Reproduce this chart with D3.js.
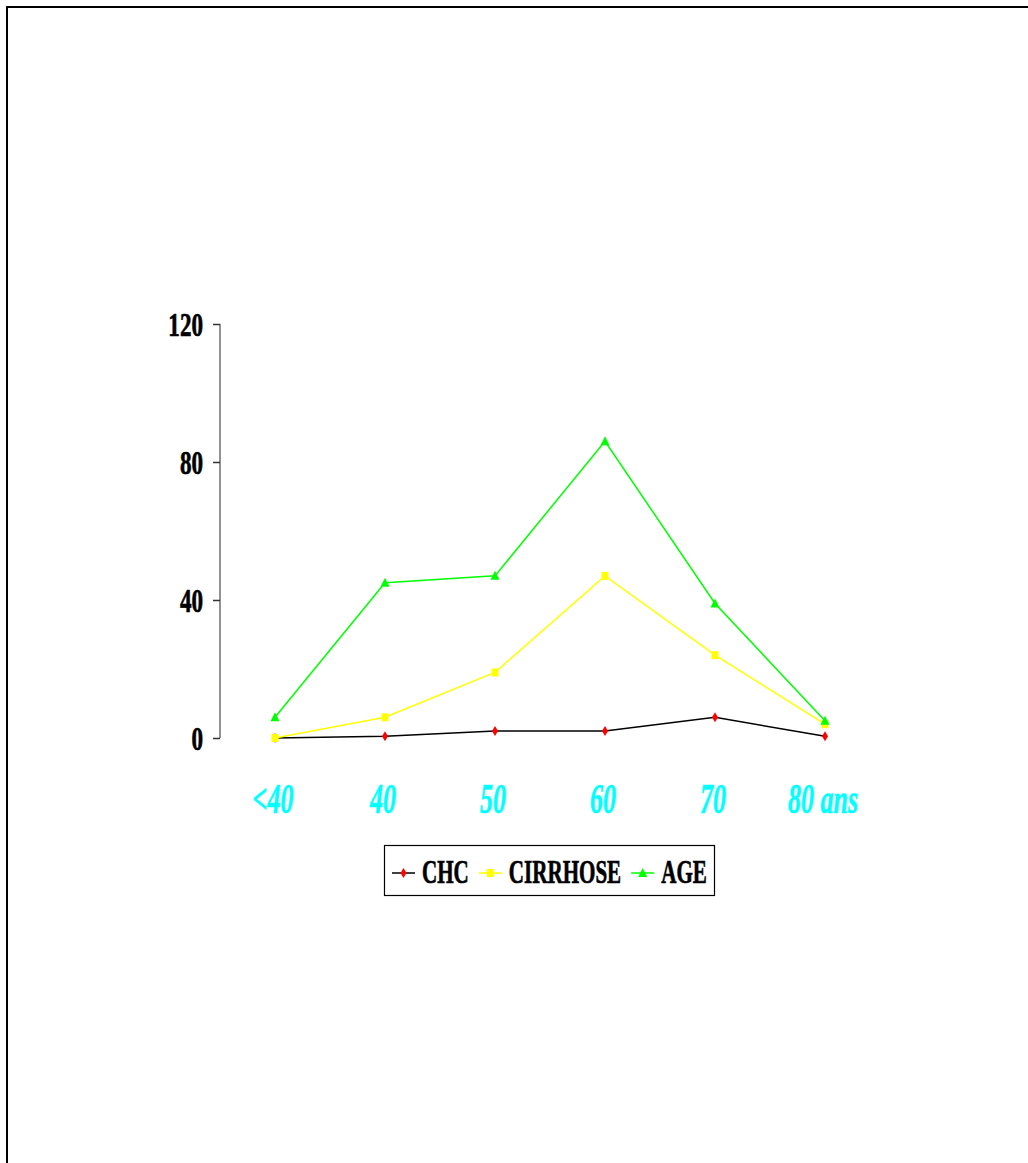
<!DOCTYPE html>
<html>
<head>
<meta charset="utf-8">
<script src="https://cdn.jsdelivr.net/npm/d3@7"></script>
<style>
  html, body { margin: 0; padding: 0; background: #fff; overflow: hidden; }
  svg { display: block; }
</style>
</head>
<body>
<svg id="chart" width="1028" height="1163"></svg>
<script>
// ---- data ----
const categories = ["<40", "40", "50", "60", "70", "80 ans"];
const chcValues = [0, 0.5, 2, 2, 6, 0.5];
const cirrhoseValues = [0, 6, 19, 47, 24, 4];
const ageValues = [6, 45, 47, 86, 39, 5];
const yTicks = [0, 40, 80, 120];
const seriesNames = ["CHC", "CIRRHOSE", "AGE"];

const series = [
  { name: seriesNames[0], values: chcValues, line: "#000000", marker: "#ff0000", shape: "diamond" },
  { name: seriesNames[1], values: cirrhoseValues, line: "#ffff00", marker: "#ffff00", shape: "square" },
  { name: seriesNames[2], values: ageValues, line: "#00ff00", marker: "#00ff00", shape: "triangle" }
];

const svg = d3.select("#chart");
const FONT = "'Liberation Serif', 'Times New Roman', serif";

// outer frame (only top & left edges visible)
svg.append("path")
  .attr("d", "M7,1163V7H1028")
  .attr("fill", "none").attr("stroke", "#000").attr("stroke-width", 2);

const x = d3.scalePoint().domain(categories).range([220, 880]).padding(0.5);
const y = d3.scaleLinear().domain([0, 120]).range([738, 324]);

// y axis
const yAxis = d3.axisLeft(y).tickValues(yTicks).tickSize(7).tickFormat("");
const gy = svg.append("g").attr("transform", "translate(220,0)").call(yAxis);
gy.select(".domain").attr("stroke", "#6e6e6e").attr("stroke-width", 1.5).attr("d", `M0,${y(120)}V${y(0)}`);
gy.selectAll(".tick line").attr("stroke", "#333").attr("stroke-width", 1.5);

// y tick labels (condensed bold serif)
svg.append("g").selectAll("text").data(yTicks).join("text")
  .attr("transform", d => `translate(203,${y(d) + 12}) scale(0.68,1)`)
  .attr("text-anchor", "end")
  .attr("font-family", FONT).attr("font-weight", "bold").attr("font-size", 34)
  .attr("fill", "#000").attr("stroke", "#000").attr("stroke-width", 0.7)
  .text(d => d);

// x labels (cyan italic bold)
svg.append("g").selectAll("text").data(categories).join("text")
  .attr("transform", d => `translate(${x(d) - 2},813) scale(0.62,1)`)
  .attr("text-anchor", "middle")
  .attr("font-family", FONT).attr("font-weight", "bold").attr("font-style", "italic").attr("font-size", 42)
  .attr("fill", "#00ffff").attr("stroke", "#00ffff").attr("stroke-width", 0.6)
  .text(d => d);

// markers
function markerPath(shape) {
  if (shape === "diamond") return "M0,-5L3,0L0,5L-3,0Z";
  if (shape === "square") return "M-3.5,-4H3.5V4H-3.5Z";
  return "M0,-5L4.5,4H-4.5Z";
}

const line = d3.line().x((d, i) => x(categories[i])).y(d => y(d));

series.forEach(s => {
  svg.append("path")
    .datum(s.values)
    .attr("d", line)
    .attr("fill", "none")
    .attr("stroke", s.line)
    .attr("stroke-width", 1.5);
});
series.forEach(s => {
  svg.append("g").selectAll("path").data(s.values).join("path")
    .attr("transform", (d, i) => `translate(${x(categories[i])},${y(d)})`)
    .attr("d", markerPath(s.shape))
    .attr("fill", s.marker);
});

// legend
const lg = svg.append("g");
lg.append("rect")
  .attr("x", 384.5).attr("y", 845.5).attr("width", 330).attr("height", 50)
  .attr("fill", "#fff").attr("stroke", "#000").attr("stroke-width", 1.2);
let lx = 392;
const ly = 873;
series.forEach(s => {
  lg.append("line").attr("x1", lx).attr("x2", lx + 23).attr("y1", ly).attr("y2", ly)
    .attr("stroke", s.line).attr("stroke-width", 1.5);
  lg.append("path").attr("transform", `translate(${lx + 11.5},${ly})`)
    .attr("d", markerPath(s.shape)).attr("fill", s.marker);
  const t = lg.append("text")
    .attr("transform", `translate(${lx + 30},883) scale(0.62,1)`)
    .attr("font-family", FONT).attr("font-weight", "bold").attr("font-size", 34)
    .attr("fill", "#000").attr("stroke", "#000").attr("stroke-width", 0.7)
    .text(s.name);
  const w = t.node().getComputedTextLength() * 0.62;
  lx += 30 + w + 10;
});
</script>
</body>
</html>
